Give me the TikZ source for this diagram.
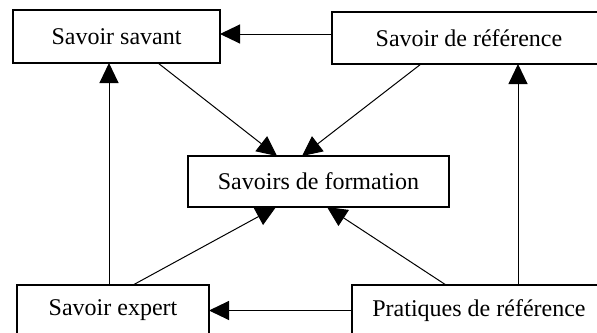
\documentclass[tikz,border=0pt]{standalone}
\usepackage{fontspec}
\setmainfont{Liberation Serif}
\usetikzlibrary{arrows.meta}
\tikzset{
  box/.style={draw, line width=1.1pt, inner sep=0pt, outer sep=0pt, font=\fontsize{24}{28}\selectfont},
  conn/.style={line width=1pt, -{Triangle[length=20pt,width=19pt]}}
}
\begin{document}
\begin{tikzpicture}[x=1pt,y=-1pt]
\useasboundingbox (0,0) rectangle (597,332);
\node[box, minimum width=207pt, minimum height=53pt] (savant) at (116.5,36.5) {Savoir savant};
\node[box, minimum width=274pt, minimum height=52pt] (ref) at (469,38) {Savoir de référence};
\node[box, minimum width=261pt, minimum height=51pt] (form) at (318.5,181.5) {Savoirs de formation};
\node[box, minimum width=192pt, minimum height=51pt] (expert) at (113,310.5) {Savoir expert};
\node[box, minimum width=254pt, minimum height=51pt] (prat) at (479,310.5) {Pratiques de référence};
% horizontal
\draw[conn] ([yshift=4pt]ref.west) -- ([yshift=4pt]ref.west -| savant.east);
\draw[conn] (prat.west) -- (prat.west -| expert.east);
% vertical
\draw[conn] ([xshift=-4pt]expert.north) -- ([xshift=-4pt]expert.north |- savant.south);
\draw[conn] ([xshift=39pt]prat.north) -- ([xshift=39pt]prat.north |- ref.south);
% diagonals
\draw[conn] ([xshift=41.5pt]savant.south) -- ([xshift=-41.5pt]form.north);
\draw[conn] ([xshift=-48pt]ref.south) -- ([xshift=-16.5pt]form.north);
\draw[conn] ([xshift=20pt]expert.north) -- ([xshift=-42.5pt]form.south);
\draw[conn] ([xshift=-33pt]prat.north) -- ([xshift=8.5pt]form.south);
\end{tikzpicture}
\end{document}
